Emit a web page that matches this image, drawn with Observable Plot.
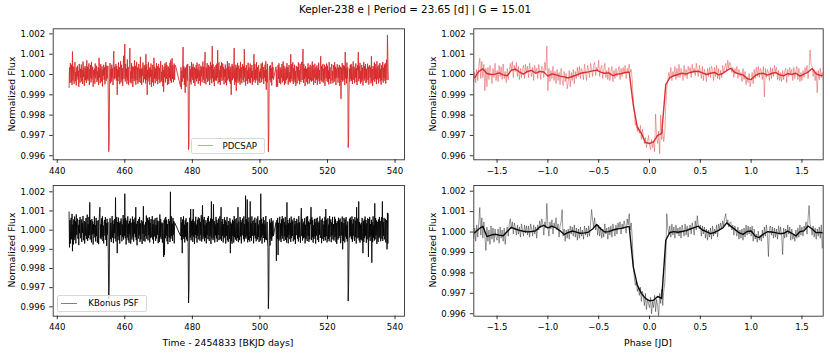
<!DOCTYPE html>
<html><head><meta charset="utf-8">
<script src="https://cdn.jsdelivr.net/npm/d3@7"></script>
<script src="https://cdn.jsdelivr.net/npm/@observablehq/plot@0.6"></script>
<style>
body{margin:0;background:#fff;font-family:"DejaVu Sans",sans-serif;}
#fig{position:relative;width:830px;height:353px;overflow:hidden;background:#fff;}
.title{position:absolute;left:0;width:830px;top:3px;text-align:center;font-size:10.3px;color:#000;white-space:nowrap;}
.xlab{position:absolute;font-size:9.3px;color:#000;white-space:nowrap;transform:translate(-50%,-50%);}
.ylab{position:absolute;font-size:9.3px;color:#000;white-space:nowrap;transform:translate(-50%,-50%) rotate(-90deg);}
.legend{position:absolute;background:rgba(255,255,255,0.8);border:1px solid #d8d8d8;border-radius:2px;box-sizing:border-box;}
.legline{position:absolute;height:1px;}
.legtext{position:absolute;font-size:8.6px;color:#000;white-space:nowrap;transform:translateY(-50%);}
</style></head>
<body><div id="fig"></div>
<script>
// ---------------- data (flux deviations in ppm, rows = [start time, values at fixed step]) ----------------
const title = "Kepler-238 e | Period = 23.65 [d] | G = 15.01";
const timeLabel = "Time - 2454833 [BKJD days]";
const phaseLabel = "Phase [JD]";
const yLabel = "Normalized Flux";
const legendLabels = ["PDCSAP", "KBonus PSF"];
const yTicks = [0.996, 0.997, 0.998, 0.999, 1.000, 1.001, 1.002];
const timeTicks = [440, 460, 480, 500, 520, 540];
const phaseTicks = [-1.5, -1.0, -0.5, 0.0, 0.5, 1.0, 1.5];
const timeStep = 0.125;   // days between samples in a row
const phaseStep = 0.01;   // phase step of unbinned folded rows
const binStep = 0.04;     // phase step of binned rows

const pdcRows = [
[443.5, -650, 350, -420, 560],
[444, 210, -380, 480, -520, 1130, -300, 390, -150],
[445, -460, 270, 610, -330, 120, -540, 350, -90],
[446, 430, -250, 180, -610, 520, 60, -400, 280],
[447, -180, 490, -350, 220, -470, 640, -120, 330],
[448, -560, 150, 420, -280, 300, -410, 700, -230],
[449, 380, -300, 90, 550, -520, 260, -170, 470],
[450, -390, 620, -240, 130, 380, -600, 210, -60],
[451, 290, -450, 540, -180, -20, 430, -370, 160],
[452, -280, 360, -520, 820, -140, 270, -430, 510],
[453, 120, -340, 400, -590, 230, -70, 480, -260],
[454, 350, -480, 190, 610, -310, 440, -200, 30],
[455, 420, -1500, -3800, -3200, -200, 560, -430, 280],
[456, -350, 480, -160, 300, -520, 730, 1150, -240],
[457, 380, -180, 290, 520, -290, 410, -1000, 250],
[458, -330, 590, -120, 360, -480, 200, 650, -390],
[459, 480, -250, 310, -560, 170, 920, -210, 430],
[460, 1500, -340, 520, -150, 280, -460, 740, -290],
[461, 360, -520, 210, 480, 1300, -380, 150, -440],
[462, 560, -200, 400, -610, 240, 380, -330, 700],
[463, -240, 430, -500, 150, 620, -280, 340, -450],
[464, 190, 520, -370, 280, -150, 870, -420, 260],
[465, -510, 330, -60, 590, -390, 210, 470, -230],
[466, 380, -440, 1000, -260, 500, -1000, 220, -340],
[467, 610, -180, 290, -500, 360, -130, 540, -610],
[468, 240, -390, 470, 150, -560, 820, -200, 360],
[469, -430, 280, -190, 560, -320, 410, -480, 180],
[470, 520, -250, 330, -420, 240, 650, -360, 130],
[471, -300, 470, -580, 220, -850, 380, -140, 540],
[472, -390, 260, 610, -210, 450, -520, 170, 390],
[473, -470, 330, -160, 580, -300, 720, -410, 250],
[474, 800, -220, 460, -380, 190, 540, -260, 410],
[475, 450],
[476.5, -600, 350, -720, 180],
[477, -350, 500, 1350, -180, 400, -520, 290, -900],
[478, 340, -610, 260, 480, -300, 520, -800, -3700],
[479, -3300, -100, 420, -360, 250, -490, 610, -150],
[480, 380, -270, 530, -420, 160, 350, -560, 290],
[481, -230, 460, -340, 590, -180, 270, -460, 400],
[482, 520, -310, 200, -540, 430, -90, 360, -380],
[483, 260, 640, -250, 380, -420, 310, 1100, -150],
[484, -480, 340, -190, 560, -360, 220, 470, -310],
[485, 390, -520, 280, 620, -240, 450, -430, 1400],
[486, -180, 510, -350, 240, -570, 380, 160, -290],
[487, 460, -300, 530, -160, 1200, -440, 270, 590],
[488, -370, 220, -510, 430, -140, 610, -320, 180],
[489, 540, -260, 370, -480, 250, -120, 490, -410],
[490, 300, -530, 180, 650, -290, 400, -200, 560],
[491, -350, 240, -460, 380, -1000, 170, 520, -280],
[492, 430, -190, 310, 1300, -520, 260, -370, 480],
[493, -800, 350, -240, 570, -410, 190, 440, -330],
[494, 280, -500, 620, -170, 350, -430, 220, 510],
[495, -260, 410, -380, 1250, -140, 330, -550, 260],
[496, 460, -320, 190, -470, 580, -210, 340, -390],
[497, 220, 540, -430, 300, -160, 470, -510, 180],
[498, -350, 390, 1000, -260, 520, -400, 250, -180],
[499, 610, -290, 360, -520, 230, 450, -340, 140],
[500, -420, 280, -170, 540, -380, 310, 590, -230],
[501, 370, -460, 210, -150, 480, -330, 650, -750],
[502, 240, -380, 520, -600, -3800, -3000, 100, 420],
[503, -270, 450, -390, 310, -540, 620, -180, 370],
[504, -250],
[504.75, 380, -600],
[505, 240, -330, -600, 460, -210, 550, -420, 180],
[506, 350, -480, 270, -160, 520, -390, 210, 640],
[507, -310, 430, -520, 290, 150, -440, 380, -260],
[508, 560, -180, 340, -500, 230, 470, -350, 120],
[509, -400, 1000, -220, 510, -340, 280, 600, -470],
[510, 310, -250, 480, -390, 170, -560, 420, 260],
[511, -440, 370, -150, 590, -300, 220, -480, 530],
[512, 180, -360, 440, 620, -270, 390, 1250, -410],
[513, 500, -230, 300, -570, 410, -140, 260, -380],
[514, 330, -480, 550, -210, 360, -440, 190, 480],
[515, -290, 410, -350, 180, 640, -300, 470, -520],
[516, 240, -170, 530, -420, 280, 360, -250, 450],
[517, -510, 300, -190, 580, -330, 210, -460, 370],
[518, 900, -280, 420, -350, 160, 520, -400, 290],
[519, -240, 480, -560, 260, 390, -180, 540, -320],
[520, 430, -370, 200, -490, 610, -220, 350, -140],
[521, -460, 280, 520, -300, 170, -430, 460, 230],
[522, -350, 600, -210, 380, -520, 290, -150, 510],
[523, 260, -400, 340, -180, 470, -560, 240, 380],
[524, -1200, 330, -270, 560, -350, 180, 450, -290],
[525, 420, -520, 1100, -200, 310, -440, 590, -180],
[526, 350, -3600, -3200, -900, 280, -350, 470, -230],
[527, 520, -310, 390, -470, 200, 640, -260, 380],
[528, -430, 260, -150, 540, -370, 310, -520, 450],
[529, 220, 1100, -330, 400, -200, 570, -450, 170],
[530, -380, 470, -250, 330, -540, 210, 620, -300],
[531, 410, -190, 510, -420, 280, -360, 190, 530],
[532, -270, 380, -500, 240, 460, -150, 350, -440],
[533, 900, -330, 270, -560, 410, 180, -280, 600],
[534, -360, 520, -210, 310, -470, 650, -240, 390],
[535, 230, -440, 480, -180, 560, -330, 270, -500],
[536, 450, -280, 180, 620, -400, 340, -160, 490],
[537, -310, 560, -450, 260, 730, -270, 1950, 800],
[538, -250]
];

const kbRows = [
[443.5, 950, -900, 520, -700],
[444, 380, 640, -480, 850, -1100, 300, -750, 560],
[445, -520, 710, -380, 460, -690, 820, -240, 400],
[446, 600, -450, 280, -780, 530, -160, 690, -420],
[447, -340, 560, -620, 370, -150, 740, -530, 250],
[448, 480, -700, 410, -280, 630, -470, 190, 810],
[449, -560, 320, -410, 690, -260, 1450, -490, 530],
[450, 370, -640, 580, -220, 450, -750, 310, -180],
[451, 720, -380, 260, -590, 640, -310, 480, -660],
[452, -250, 520, -730, 390, 860, 1200, -420, 300],
[453, -480, 610, -350, 720, -570, 240, -690, 450],
[454, 530, -290, 680, -510, 360, -820, 590, -240],
[455, 410, -1700, -3600, -2800, -300, 620, -470, 380],
[456, -620, 290, 740, -390, 510, -680, 330, -160],
[457, 580, -440, 1700, -590, 260, 690, -1200, 420],
[458, -310, 650, -520, 380, -700, 470, -260, 610],
[459, 440, -580, 300, -360, 790, -490, 560, -290],
[460, 1900, -420, 630, -750, 280, 510, -380, 720],
[461, -530, 340, -660, 480, -220, 600, -710, 390],
[462, 260, -490, 710, -340, 560, -600, 410, -180],
[463, 650, -370, 1200, -520, 330, -790, 480, 240],
[464, -440, 580, -270, 690, -610, 350, -480, 520],
[465, 380, -720, 450, -200, 1250, -560, 290, -380],
[466, -600, 420, -310, 760, -450, 230, 640, -530],
[467, 510, -270, 680, -640, 370, -410, 580, -220],
[468, -380, 730, -490, 310, -700, 540, -330, 460],
[469, 620, -560, 280, -430, 650, -240, 490, -680],
[470, -290, 470, -610, 820, -360, 570, -470, 350],
[471, 400, -650, 360, -300, -1400, 520, -1300, 610],
[472, -420, 690, -280, 540, -580, 310, -730, 450],
[473, 580, -380, 460, -620, 2000, -450, 720, -300],
[474, 330, -560, 640, -240, 480, -690, 390, 350],
[476.5, -300, 680, -520, 410],
[477, -1200, 560, -380, 720, -460, 290, -640, 510],
[478, -350, 620, -480, 380, -560, 420, -900, -3800],
[479, -3000, -200, 650, -390, 1100, -530, 460, -280],
[480, 560, -610, 1100, -340, 480, -720, 390, -250],
[481, 700, -420, 290, -650, 540, -300, 670, -480],
[482, -370, 610, -550, 430, -240, 780, -600, 350],
[483, 1300, -470, 560, -330, 690, -580, 280, -410],
[484, 520, -690, 380, -260, 640, -470, 730, -350],
[485, -560, 450, -300, 610, -720, 1500, -430, 580],
[486, 360, -520, 1350, -390, 470, -640, 300, -270],
[487, 690, -430, 540, -610, 380, -250, 600, -520],
[488, -310, 720, -480, 350, 1200, -560, 440, -290],
[489, 580, -640, 310, -420, 670, -350, 520, -700],
[490, 430, -290, 690, -530, 260, -610, 480, 360],
[491, -450, 620, -1200, 410, -580, 330, -710, 540],
[492, -300, 480, -650, 740, -370, 560, -490, 280],
[493, 620, -560, 350, -410, 1200, -630, 450, -240],
[494, -520, 690, -330, 530, -690, 400, -270, 610],
[495, 380, -470, 720, -590, 310, -380, 1800, -450],
[496, 560, -320, 1600, -640, 430, -510, 660, -280],
[497, -600, 1500, -410, 360, -550, 720, -300, 470],
[498, 310, -690, 540, -270, 650, -430, 380, -580],
[499, -340, 600, -480, 720, -360, 290, -620, 510],
[500, 450, -540, 1900, -380, 590, -700, 340, -260],
[501, 680, -410, 520, -630, 300, -490, 740, -350],
[502, -520, 430, -620, -900, -4100, -3200, -300, 560],
[503, -800, 390, -470, 630, -560, 410, -330, 500],
[504, -300],
[504.75, 400, -1600],
[505, 520, -460, 640, -1300, 380, -550, 290, 700],
[506, -480, 350, -620, 560, -290, 730, -440, 380],
[507, 610, -570, 420, -330, 690, -510, 280, -640],
[508, 1450, -380, 530, -690, 360, -250, 620, -470],
[509, 390, -610, 710, -420, 550, -300, 460, -580],
[510, -350, 640, -490, 300, -720, 480, -260, 590],
[511, 520, -440, 360, -590, 730, -370, 410, -290],
[512, -660, 480, 1150, -310, 590, -540, 350, -420],
[513, 440, -380, 620, -690, 280, -460, 700, -330],
[514, -570, 730, -300, 450, -610, 390, -480, 560],
[515, 310, 1200, -520, 680, -380, 520, -650, 270],
[516, -460, 590, -330, 410, -700, 600, -280, 480],
[517, 650, -510, 380, -620, 460, -240, 720, -400],
[518, -300, 540, -680, 330, 610, -450, 290, -560],
[519, 480, -360, 700, -530, 1100, -310, 550, -640],
[520, -390, 620, -460, 290, -580, 740, -350, 430],
[521, 560, -630, 410, -270, 690, -480, 320, -540],
[522, -430, 700, -340, 580, -620, 380, -720, 470],
[523, 360, -490, 650, -410, 520, -300, 610, -680],
[524, -520, 430, -280, 710, -1000, 370, -560, 640],
[525, 400, -640, 550, -340, 680, -460, 280, -590],
[526, 450, -3700, -2900, -1000, 590, -380, 660, -300],
[527, 530, -470, 720, -620, 340, -290, 570, -410],
[528, -560, 680, -360, 490, -700, 1200, -430, 350],
[529, 610, -390, 1500, -540, 420, -650, 300, -480],
[530, 380, -530, 640, -310, -1200, 470, -620, 560],
[531, -420, 710, -290, 530, -660, 350, -480, 620],
[532, 450, -1400, 580, -370, 690, -560, 320, -300],
[533, 540, -1700, 410, -630, 720, -390, 280, -550],
[534, 1400, -480, 630, -270, 510, -720, 440, -350],
[535, -610, 560, -420, 690, -330, 470, -580, 380],
[536, 670, -450, 1500, -560, 420, -290, 640, -480],
[537, -360, 590, -640, 380, 520, -1000, 900, -700],
[538, 850]
];

const pdcFoldRows = [
[-1.73, -350, 100, -400],
[-1.7, 250, -300, 400, 800, -200, 650, -150, 500, -800, 300],
[-1.6, -600, 350, -250, 450, 100, -450, 300, -150, 550, -300],
[-1.5, 200, -350, 450, -100, 380, -250, 520, -200, 150, -400],
[-1.4, 300, -250, 150, 550, 200, 650, -150, 450, 150, 600],
[-1.3, -100, 400, -250, 300, -150, 250, 450, -200, 500, 100],
[-1.2, 400, -150, 550, 200, -100, 350, -300, 450, 100, 300],
[-1.1, -200, 500, 150, -250, 400, 300, -150, 600, 200, 1400],
[-1.0, -800, 300, -350, 200, -200, 400, -300, 150, -450, 250],
[-0.9, -300, 100, -500, 300, -250, -550, 150, -350, 50, -700],
[-0.8, -400, 200, -600, 100, -300, 250, -450, 150, -200, 350],
[-0.7, -100, 400, -200, 300, 150, -250, 500, 100, -300, 450],
[-0.6, 200, -150, 550, 300, -100, 450, 600, -50, 350, 200],
[-0.5, 700, -100, 300, 450, -200, 250, 550, -150, 200, -250],
[-0.4, 350, -300, 150, 400, -350, 200, -200, 300, -100, 150],
[-0.3, 400, -250, 300, -100, 350, 50, 450, -200, 300, 150],
[-0.2, 500, 100, 250, -300, -1200, -1900, -2500, -2300, -2800, -2600],
[-0.1, -2900, -2500, -3200, -2700, -3000, -3400, -3100, -3600, -3300, -3000],
[0.0, -3500, -3700, -3200, -3600, -3300, -3800, -1950, -3100, -3400, -2800],
[0.1, -3900, -2000, -3200, -2700, -3300, -2900, -1500, -700, -300, 100],
[0.2, -200, 350, -300, 150, -100, 400, -250, 300, -150, 500],
[0.3, -150, 300, 100, -300, 450, -100, 250, -200, 400, 150],
[0.4, 350, -150, 500, 100, 300, -50, 550, 200, -100, 450],
[0.5, 150, -200, 400, -300, 250, 50, -350, 300, -100, 350],
[0.6, -150, 400, 250, -300, 350, -100, 450, -200, 300, -250],
[0.7, 200, -150, 450, 100, 350, 550, 150, 700, 300, 600],
[0.8, 450, 100, 350, -150, 300, 50, 400, -200, 250, -100],
[0.9, 100, -350, 300, -250, 150, -500, -100, -400, 50, -600],
[1.0, -300, 100, -450, 250, -200, 350, -100, 400, -150, 300],
[1.1, 150, -250, 400, -1100, 300, -150, 250, 100, -300, 350],
[1.2, -200, 300, -100, 450, 150, 350, -250, 200, -300, 100],
[1.3, -350, 200, -250, 150, 300, -400, 250, -100, 350, 0],
[1.4, 250, -300, 350, -200, 150, 400, -250, 300, -350, 100],
[1.5, -300, 200, -150, 350, 100, 450, -200, 300, 1200, 500],
[1.6, 400, -100, 250, -300, 150, -900, 200, -250, 300, -150],
[1.7, 100, -300]
];

const kbFoldRows = [
[-1.73, -300, 200, -450],
[-1.7, 350, -250, 450, 1200, -150, 700, -300, 500, -200, -900],
[-1.6, 250, -450, 100, -600, 300, -350, 200, -500, 150, -250],
[-1.5, -400, 150, -550, 250, -300, 100, -450, 200, -600, 0],
[-1.4, 250, -200, 400, 650, 150, 500, -100, 450, 200, -150],
[-1.3, 350, -100, 250, -250, 400, 100, -200, 350, -50, 300],
[-1.2, -150, 300, -250, 400, 150, -200, 350, -100, 250, -300],
[-1.1, 350, 100, 550, 200, 650, 400, -150, 500, 200, 1400],
[-1.0, 300, -200, 500, 150, 600, -100, 450, 250, 700, 100],
[-0.9, 400, -250, 300, 500, 1100, -200, 150, -450, 100, -300],
[-0.8, 150, -350, 300, -100, 250, -200, 350, -250, 200, -400],
[-0.7, 150, -300, 250, -200, 100, -350, 300, -150, 200, -250],
[-0.6, 300, -200, 450, 1100, 600, 250, 700, 100, 400, -150],
[-0.5, 350, -200, 250, -300, 150, -250, 400, -100, 200, -350],
[-0.4, 250, -150, 300, -250, 400, 100, -200, 350, -100, 450],
[-0.3, 200, 500, -100, 400, 150, 550, 300, -50, 650, 350],
[-0.2, 900, 100, 450, -300, -1500, -2200, -2600, -2400, -2900, -2700],
[-0.1, -3100, -2700, -3400, -2900, -3200, -3600, -3000, -3800, -3300, -3500],
[0.0, -3700, -3200, -4000, -3400, -3700, -3100, -3900, -3300, -3600, -4200],
[0.1, -3000, -3500, -2800, -3600, -2900, -2500, -1200, 900, 200, -100],
[0.2, 300, -250, 400, -150, 250, -300, 350, -100, 200, -200],
[0.3, 250, -300, 350, 100, -200, 400, -150, 300, -250, 200],
[0.4, 350, -100, 450, 200, -150, 550, 100, 800, 300, 150],
[0.5, 350, -200, 300, -100, 250, -300, 150, -400, 100, -250],
[0.6, 200, -350, 300, -200, 150, -100, 350, -250, 400, 100],
[0.7, 450, 150, 550, 300, 700, 900, 400, 600, 250, 450],
[0.8, 500, 100, 350, -150, 300, 50, -200, 250, -350, 100],
[0.9, -300, 150, -400, 200, -250, 350, -150, 300, -100, 250],
[1.0, -200, 300, -450, 150, -350, -100, -500, 50, -400, -150],
[1.1, -450, 100, -300, 250, -200, 350, -100, -1200, 200, 300],
[1.2, -150, 250, -300, 200, -250, 150, -350, 300, -100, 250],
[1.3, -200, -1100, 200, -300, 150, -250, 350, -100, 250, -400],
[1.4, 150, -350, -100, -450, 100, -300, 200, -250, 350, -150],
[1.5, 250, -200, 300, 150, 500, -100, 650, 1300, 400, 200],
[1.6, -150, 300, -250, 200, -350, 150, -200, 250, -300, 350],
[1.7, -800, 100]
];

const pdcBinRows = [
[-1.72, -150, 150, 280, 50, 0, 20, 80, -20, -60, 200],
[-1.32, 270, 120, 20, 150, 200, 60, 150, 120, -80, 30],
[-0.92, -20, -80, -120, -170, -100, -30, 60, 100, 130, 180],
[-0.52, 210, 120, 60, 80, -60, 20, 40, 100, 120, -1500],
[-0.12, -2600, -2900, -3350, -3400, -3300, -3000, -2900, -500, -150, -60],
[0.28, 0, 60, 20, 100, 150, 160, 80, 0, 60, 100],
[0.68, -20, 50, 200, 300, 100, 30, -20, -200, -250, -60],
[1.08, 40, 60, -30, 50, 100, -20, -60, 40, 0, 60],
[1.48, -80, 20, 120, 300, 30, -50, -40]
];

const kbBinRows = [
[-1.72, -30, 150, 280, -220, -150, -110, -150, -180, 30, 230],
[-1.32, 150, 80, 40, 10, 30, 60, 250, 330, 200, 290],
[-0.92, 200, 60, -120, -20, 50, 0, -60, -40, 0, 150],
[-0.52, 370, 150, 0, 20, 100, 150, 180, 230, 280, -1700],
[-0.12, -2600, -3000, -3250, -3370, -3340, -3150, -3250, -400, -20, 20],
[0.28, -10, 30, 70, 150, 220, 290, 100, 20, -80, -20],
[0.68, 80, 200, 450, 280, 130, -30, -110, 30, 50, -200],
[1.08, -270, -100, 15, 0, -30, -80, -60, 50, -60, -190],
[1.48, 20, 60, 300, 150, -30, -20, -40]
];

// ---------------- helpers ----------------
function fromRows(rows, step) {
  const out = [];
  for (const r of rows) for (let i = 1; i < r.length; i++)
    out.push({x: r[0] + (i - 1) * step, y: 1 + r[i] / 1e6});
  return out;
}
const pdc = fromRows(pdcRows, timeStep);
const kb = fromRows(kbRows, timeStep);
const pdcFold = fromRows(pdcFoldRows, phaseStep);
const kbFold = fromRows(kbFoldRows, phaseStep);
const pdcBin = fromRows(pdcBinRows, binStep);
const kbBin = fromRows(kbBinRows, binStep);

const RED = "#d62728";
const fig = document.getElementById("fig");
const fmtPhase = d => d.toFixed(1).replace("-", "\u2212");

function panel(o) {
  const chart = Plot.plot({
    width: o.w, height: o.h,
    marginTop: o.m[0], marginRight: o.m[1], marginBottom: o.m[2], marginLeft: o.m[3],
    x: {domain: o.xDomain},
    y: {domain: o.yDomain},
    style: {fontFamily: "'DejaVu Sans', sans-serif", fontSize: "8.6px", color: "#000", background: "none", overflow: "visible"},
    marks: [
      ...o.marks,
      Plot.frame({stroke: "#333", strokeWidth: 0.9}),
      Plot.axisX({ticks: o.xTicks, tickFormat: o.xFmt, tickSize: 3.5, tickPadding: 4.5, label: null, strokeWidth: 0.8}),
      Plot.axisY({ticks: yTicks, tickFormat: d => d.toFixed(3), tickSize: 3.5, tickPadding: 4.5, label: null, strokeWidth: 0.8})
    ]
  });
  chart.style.position = "absolute";
  chart.style.left = o.left + "px";
  chart.style.top = o.top + "px";
  fig.appendChild(chart);
}

function addDiv(cls, text, x, y) {
  const d = document.createElement("div");
  d.className = cls; d.textContent = text;
  d.style.left = x + "px"; d.style.top = y + "px";
  fig.appendChild(d);
  return d;
}

const tDom = [438.8, 542.8];
const pDom = [-1.729, 1.709];

panel({left: 0, top: 0, w: 415, h: 180, m: [28.3, 11, 20.7, 52.7], xDomain: tDom, yDomain: [0.99580, 1.00225],
  xTicks: timeTicks, xFmt: d => String(d),
  marks: [Plot.line(pdc, {x: "x", y: "y", stroke: RED, strokeOpacity: 0.85, strokeWidth: 1, clip: true})]});
panel({left: 415, top: 0, w: 415, h: 180, m: [28.3, 7.3, 20.7, 58.3], xDomain: pDom, yDomain: [0.99580, 1.00225],
  xTicks: phaseTicks, xFmt: fmtPhase,
  marks: [Plot.line(pdcFold, {x: "x", y: "y", stroke: RED, strokeOpacity: 0.5, strokeWidth: 0.8, clip: true}),
          Plot.line(pdcBin, {x: "x", y: "y", stroke: RED, strokeOpacity: 0.95, strokeWidth: 1.4, clip: true})]});
panel({left: 0, top: 170, w: 415, h: 183, m: [15, 11, 37.3, 52.7], xDomain: tDom, yDomain: [0.99551, 1.00233],
  xTicks: timeTicks, xFmt: d => String(d),
  marks: [Plot.line(kb, {x: "x", y: "y", stroke: "#000", strokeOpacity: 0.85, strokeWidth: 1, clip: true})]});
panel({left: 415, top: 170, w: 415, h: 183, m: [15, 7.3, 37.3, 58.3], xDomain: pDom, yDomain: [0.99588, 1.00228],
  xTicks: phaseTicks, xFmt: fmtPhase,
  marks: [Plot.line(kbFold, {x: "x", y: "y", stroke: "#000", strokeOpacity: 0.5, strokeWidth: 0.8, clip: true}),
          Plot.line(kbBin, {x: "x", y: "y", stroke: "#000", strokeOpacity: 0.95, strokeWidth: 1.4, clip: true})]});

// titles and axis labels
addDiv("title", title, 0, 3).style.left = "0px";
addDiv("ylab", yLabel, 10.7, 93.5);
addDiv("ylab", yLabel, 431.7, 93.5);
addDiv("ylab", yLabel, 10.7, 250);
addDiv("ylab", yLabel, 431.7, 250);
addDiv("xlab", timeLabel, 228, 342);
addDiv("xlab", phaseLabel, 648, 342);

// legends
function legend(x, y, w, h, lx0, lx1, tx, color, label) {
  const b = document.createElement("div");
  b.className = "legend";
  Object.assign(b.style, {left: x + "px", top: y + "px", width: w + "px", height: h + "px"});
  fig.appendChild(b);
  const l = document.createElement("div");
  l.className = "legline";
  Object.assign(l.style, {left: lx0 + "px", top: (y + h / 2 - 0.5) + "px", width: (lx1 - lx0) + "px", background: color});
  fig.appendChild(l);
  addDiv("legtext", label, tx, y + h / 2);
}
legend(191, 137.5, 73.5, 16.5, 197.5, 212.5, 222.5, "rgba(214,39,40,0.5)", legendLabels[0]);
legend(56.7, 295, 90.6, 16.5, 61, 77, 88.3, "rgba(0,0,0,0.5)", legendLabels[1]);
</script>
</body></html>
